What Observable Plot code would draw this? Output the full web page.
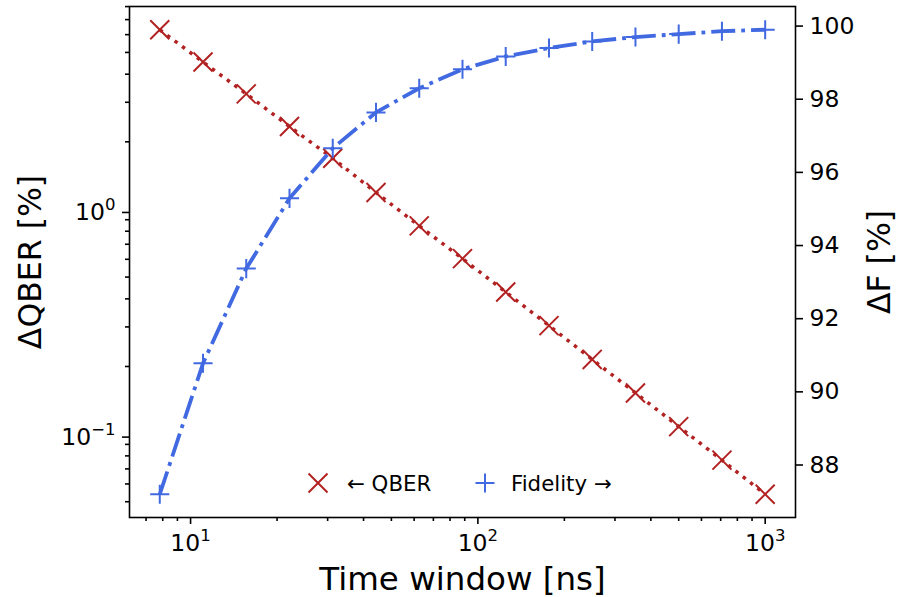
<!DOCTYPE html>
<html>
<head>
<meta charset="utf-8">
<script src="https://cdn.jsdelivr.net/npm/d3@7"></script>
<script src="https://cdn.jsdelivr.net/npm/@observablehq/plot@0.6"></script>
<style>
html, body { margin: 0; padding: 0; background: #fff; }
#wrap { position: relative; width: 903px; height: 597px; font-family: "DejaVu Sans", sans-serif; }
#wrap > svg { position: absolute; left: 0; top: 0; }
#wrap svg.overlay { pointer-events: none; }
</style>
</head>
<body>
<div id="wrap"></div>
<script>
// ---- data ----
const timeWindow = [7.8125, 11.05, 15.625, 22.1, 31.25, 44.2, 62.5, 88.4, 125, 176.8, 250, 353.6, 500, 707.1, 1000];
const qber = [6.31, 4.53, 3.27, 2.34, 1.69, 1.19, 0.845, 0.604, 0.429, 0.304, 0.215, 0.1525, 0.108, 0.0766, 0.054];
const fidelity = [87.20, 90.78, 93.37, 95.29, 96.66, 97.64, 98.30, 98.82, 99.17, 99.40, 99.58, 99.70, 99.78, 99.86, 99.90];

const xTicks = [10, 100, 1000];
const xTickLabels = ["10^1", "10^2", "10^3"];
const xMinorTicks = [7, 8, 9, 20, 30, 40, 50, 60, 70, 80, 90, 200, 300, 400, 500, 600, 700, 800, 900];
const qTicks = [0.1, 1];
const qTickLabels = ["10^\u22121", "10^0"];
const qMinorTicks = [0.05, 0.06, 0.07, 0.08, 0.09, 0.2, 0.3, 0.4, 0.5, 0.6, 0.7, 0.8, 0.9, 2, 3, 4, 5, 6, 7, 8];
const fTicks = [88, 90, 92, 94, 96, 98, 100];

const xDomain = [6.13, 1275];
const qDomain = [0.04254, 8.006];
const fDomain = [86.565, 100.535];

const seriesNames = ["\u2190 QBER", "Fidelity \u2192"];
const colors = ["#b22222", "#4169e1"];

const qRows = timeWindow.map((t, i) => ({t, v: qber[i]}));
const fRows = timeWindow.map((t, i) => ({t, v: fidelity[i]}));

const tickStyle = {stroke: "#000", strokeWidth: 1.6};
const frameOpts = {
  width: 903,
  height: 597,
  marginLeft: 129,
  marginRight: 108,
  marginTop: 6,
  marginBottom: 80
};

// ---- main plot: QBER on the left log axis ----
const chartQ = Plot.plot({
  ...frameOpts,
  style: {fontFamily: "DejaVu Sans", fontSize: "23.5px", color: "#000", background: "#fff", overflow: "visible"},
  x: {type: "log", domain: xDomain},
  y: {type: "log", domain: qDomain},
  marks: [
    Plot.axisX(xMinorTicks, {anchor: "bottom", tickSize: 4, tickFormat: () => "", label: null, ...tickStyle}),
    Plot.axisY(qMinorTicks, {anchor: "left", tickSize: 4, tickFormat: () => "", label: null, ...tickStyle}),
    Plot.axisX(xTicks, {anchor: "bottom", tickSize: 7, tickPadding: 10, label: null,
      tickFormat: d => xTickLabels[xTicks.indexOf(d)], ...tickStyle}),
    Plot.axisY(qTicks, {anchor: "left", tickSize: 7, tickPadding: 7, label: null, dy: 3,
      tickFormat: d => qTickLabels[qTicks.indexOf(d)], ...tickStyle}),
    Plot.text(["Time window [ns]"], {frameAnchor: "bottom", dy: 72, fontSize: 32.5, lineAnchor: "bottom", textAnchor: "middle"}),
    Plot.text(["\u0394QBER [%]"], {frameAnchor: "left", dx: -99, rotate: -90, fontSize: 31.5, textAnchor: "middle", lineAnchor: "middle"}),
    Plot.text(["\u0394F [%]"], {frameAnchor: "right", dx: 84, rotate: -90, fontSize: 31.5, textAnchor: "middle", lineAnchor: "middle"}),
    Plot.line(qRows, {x: "t", y: "v", stroke: colors[0], strokeWidth: 3.5, strokeDasharray: "3.5 5.8", strokeLinecap: "butt"}),
    Plot.dot(qRows, {x: "t", y: "v", symbol: "times", r: 8.7, stroke: colors[0], strokeWidth: 2}),
    Plot.frame({stroke: "#000", strokeWidth: 1.6})
  ]
});

// ---- twin plot: Fidelity on the right linear axis ----
const chartF = Plot.plot({
  ...frameOpts,
  style: {fontFamily: "DejaVu Sans", fontSize: "23.5px", color: "#000", background: "transparent", overflow: "visible"},
  x: {type: "log", domain: xDomain, axis: null},
  y: {type: "linear", domain: fDomain},
  marks: [
    Plot.axisY(fTicks, {anchor: "right", tickSize: 7, tickPadding: 7, label: null,
      tickFormat: d => String(d), ...tickStyle}),
    Plot.line(fRows, {x: "t", y: "v", stroke: colors[1], strokeWidth: 3.8, strokeDasharray: "24 6 3.8 6", strokeLinecap: "butt"}),
    Plot.dot(fRows, {x: "t", y: "v", symbol: "plus", r: 6.2, stroke: colors[1], strokeWidth: 2})
  ]
});
chartF.classList.add("overlay");

// superscript exponents like matplotlib mathtext
const NS = "http://www.w3.org/2000/svg";
chartQ.querySelectorAll("text").forEach(t => {
  const m = t.textContent.match(/^10\^(.+)$/);
  if (m) {
    t.textContent = "10";
    const s = document.createElementNS(NS, "tspan");
    s.setAttribute("dy", "-10");
    s.setAttribute("font-size", "16.5px");
    s.textContent = m[1];
    t.appendChild(s);
  }
});

const wrap = document.getElementById("wrap");
wrap.appendChild(chartQ);
wrap.appendChild(chartF);

// ---- legend (inside the axes, lower centre) ----
const leg = d3.select(wrap).append("svg").attr("class", "overlay")
  .attr("width", 903).attr("height", 597)
  .style("font-family", "DejaVu Sans").style("font-size", "21.3px");
const legItems = [
  {sym: d3.symbolTimes, size: 237, mx: 318, tx: 347},
  {sym: d3.symbolPlus, size: 120, mx: 485, tx: 511}
];
legItems.forEach((it, i) => {
  leg.append("path").attr("d", d3.symbol().type(it.sym).size(it.size)())
    .attr("transform", `translate(${it.mx},483)`)
    .attr("fill", "none").attr("stroke", colors[i]).attr("stroke-width", 2);
  leg.append("text").attr("x", it.tx).attr("y", 491).attr("fill", "#000").text(seriesNames[i]);
});
</script>
</body>
</html>
